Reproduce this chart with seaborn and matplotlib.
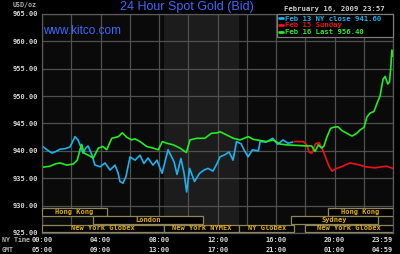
import matplotlib
matplotlib.use("Agg")
import matplotlib.pyplot as plt
import seaborn as sns
import pandas as pd
from matplotlib.patches import Rectangle
from matplotlib.ticker import FixedLocator

# ---------------- data ----------------
feb13_hours = [0, 0.34, 0.68, 0.96, 1.23, 1.57, 1.91, 2.26, 2.46, 2.60, 2.80, 3.01, 3.15,
               3.42, 3.62, 3.97, 4.31, 4.65, 4.99, 5.20, 5.33, 5.54, 5.74, 6.02, 6.36,
               6.70, 6.97, 7.25, 7.59, 7.86, 8.21, 8.62, 9.03, 9.23, 9.50, 9.71, 9.89,
               10.09, 10.43, 10.77, 11.08, 11.35, 11.69, 11.97, 12.17, 12.51, 12.79,
               13.06, 13.30, 13.61, 13.81, 14.09, 14.39, 14.80, 14.91, 15.32, 15.77,
               16.12, 16.48, 16.82, 17.14]
feb13_prices = [940.9, 940.2, 939.6, 939.9, 940.3, 940.4, 940.7, 942.6, 942.0, 941.1, 939.6,
                940.6, 940.9, 939.2, 937.4, 937.1, 937.8, 936.5, 937.4, 936.0, 934.4, 934.1,
                935.3, 938.9, 938.3, 939.2, 937.7, 938.7, 937.4, 938.3, 935.9, 940.2, 938.0,
                935.7, 938.6, 936.0, 932.5, 936.8, 934.4, 935.9, 936.5, 936.8, 936.3, 937.7,
                938.9, 939.3, 939.8, 938.3, 941.7, 941.3, 940.2, 938.9, 940.2, 940.0, 941.7,
                941.6, 942.3, 941.2, 942.0, 941.4, 941.6]

feb15_hours = [17.25, 17.87, 18.10, 18.28, 18.46, 18.70, 18.94, 19.15, 19.38, 19.62, 19.83,
               20.15, 20.38, 20.72, 21.06, 21.40, 21.74, 22.09, 22.43, 22.77, 23.23, 23.57,
               23.97]
feb15_prices = [941.7, 941.7, 941.1, 939.7, 939.6, 941.3, 941.5, 940.5, 938.9, 937.2, 936.3,
                936.8, 937.0, 937.4, 937.8, 937.6, 937.4, 937.1, 937.0, 936.9, 937.1, 937.2,
                936.8]

feb16_hours = [0, 0.55, 0.89, 1.23, 1.69, 2.14, 2.41, 2.60, 2.71, 2.87, 3.17, 3.51, 3.85,
               4.17, 4.42, 4.77, 5.22, 5.49, 5.79, 6.13, 6.36, 6.70, 7.16, 7.61, 7.95, 8.23,
               8.53, 8.98, 9.44, 9.87, 10.12, 10.58, 11.13, 11.58, 11.99, 12.17, 12.63,
               13.08, 13.54, 14.11, 14.45, 14.91, 15.36, 15.82, 16.27, 16.73, 17.42, 18.10,
               18.44, 18.67, 18.89, 19.12, 19.28, 19.49, 19.73, 19.92, 20.24, 20.51, 20.85,
               21.20, 21.52, 21.74, 22.02, 22.22, 22.43, 22.70, 22.91, 23.11, 23.32, 23.47,
               23.64, 23.76, 23.86, 23.92, 23.98]
feb16_prices = [937.0, 937.2, 937.6, 937.8, 937.4, 937.6, 938.3, 940.2, 941.2, 939.6, 939.2,
                938.7, 940.5, 940.8, 940.2, 942.3, 942.6, 943.3, 942.5, 942.0, 942.2, 941.7,
                940.8, 940.5, 940.2, 941.7, 941.4, 941.1, 940.5, 939.7, 942.0, 942.3, 942.3,
                943.2, 943.3, 943.5, 942.9, 942.3, 942.0, 942.6, 942.1, 941.9, 941.7, 942.0,
                941.25, 941.1, 941.0, 940.9, 940.9, 939.9, 941.1, 940.5, 940.9, 942.6, 944.1,
                944.3, 944.4, 943.7, 943.2, 942.7, 943.2, 943.8, 944.3, 946.2, 946.9, 947.2,
                948.7, 950.0, 953.1, 953.6, 952.2, 952.6, 955.6, 958.4, 957.3]

series_names = ["Feb 13 NY close 941.60", "Feb 15 Sunday", "Feb 16 Last 956.40"]
series_colors = ["#1cb2ee", "#f01212", "#22ec22"]

y_ticks = [925, 930, 935, 940, 945, 950, 955, 960, 965]
x_major_hours = [0, 4, 8, 12, 16, 20, 23.983]
x_minor_hours = [2, 6, 10, 14, 18, 22]
ny_labels = ["00:00", "04:00", "08:00", "12:00", "16:00", "20:00", "23:59"]
gmt_labels = ["05:00", "09:00", "13:00", "17:00", "21:00", "01:00", "04:59"]

nymex_start, nymex_end = 8.333, 13.5

session_labels = ["Hong Kong", "Hong Kong", "London", "Sydney",
                  "New York Globex", "New York NYMEX", "NY Globex", "New York Globex"]
session_rows = [0, 0, 1, 1, 2, 2, 2, 2]
session_starts = [0, 19.55, 3.5, 17.0, 0, 8.333, 13.5, 18.0]
session_ends = [4.44, 24.0, 11.0, 23.0, 8.333, 13.5, 17.25, 24.0]
row_bottoms = [928.1, 926.6, 925.1]
row_height = 1.45

# ---------------- style ----------------
sns.set_style("dark", {"axes.facecolor": "#0a0a0a", "figure.facecolor": "black",
                       "axes.edgecolor": "#5a5a5a", "grid.color": "#505050"})
plt.rcParams["font.family"] = ["DejaVu Sans Mono", "DejaVu Sans"]
mono = {"family": "DejaVu Sans Mono", "weight": "bold"}

fig = plt.figure(figsize=(4.0, 2.54), dpi=100, facecolor="black")
ax = fig.add_axes([42 / 400, 21 / 254, 351 / 400, 219 / 254])
ax.set_facecolor("#0a0a0a")

df = pd.concat([
    pd.DataFrame({"hour": feb13_hours, "price": feb13_prices, "series": series_names[0]}),
    pd.DataFrame({"hour": feb15_hours, "price": feb15_prices, "series": series_names[1]}),
    pd.DataFrame({"hour": feb16_hours, "price": feb16_prices, "series": series_names[2]}),
])

ax.axvspan(nymex_start, nymex_end, color="#1c1c1c", zorder=0, lw=0)

sns.lineplot(data=df, x="hour", y="price", hue="series", hue_order=series_names,
             palette=dict(zip(series_names, series_colors)), linewidth=1.2,
             estimator=None, sort=True, ax=ax, zorder=2)

ax.set_xlim(0, 24)
ax.set_ylim(925, 965)
ax.set_xlabel("")
ax.set_ylabel("")

ax.set_yticks(y_ticks, labels=[f"{v:.2f}" for v in y_ticks])
ax.set_xticks(x_major_hours, labels=[f"{a}\n{b}" for a, b in zip(ny_labels, gmt_labels)])
ax.xaxis.set_minor_locator(FixedLocator(x_minor_hours))
ax.grid(True, which="both", color="#505050", linewidth=0.9)
ax.tick_params(axis="both", which="both", length=0, colors="#d8d8d8")
ax.tick_params(axis="y", pad=2.5)
ax.tick_params(axis="x", pad=3.2)
for lbl in ax.get_yticklabels():
    lbl.set_fontproperties(mono)
    lbl.set_fontsize(5.0)
for lbl in ax.get_xticklabels():
    lbl.set_fontproperties(mono)
    lbl.set_fontsize(5.0)
    lbl.set_linespacing(1.75)
ax.get_xticklabels()[-1].set_ha("right")
for s in ax.spines.values():
    s.set_color("#5a5a5a")
    s.set_linewidth(0.9)

# session boxes
for lab, r, s0, s1 in zip(session_labels, session_rows, session_starts, session_ends):
    yb = row_bottoms[r]
    ax.add_patch(Rectangle((s0, yb), s1 - s0, row_height, facecolor="black",
                           edgecolor="#8c8658", lw=0.9, zorder=3))
    ax.text((s0 + s1) / 2, yb + row_height / 2, lab, ha="center", va="center",
            color="#e8b000", fontsize=5.0, zorder=4, **mono)

# legend
handles, labels = ax.get_legend_handles_labels()
leg = ax.legend(handles, labels, loc="upper left",
                bbox_to_anchor=((277 - 42) / 351, 0, (393 - 277) / 351, 1.0),
                mode="expand", borderaxespad=0, frameon=True, fancybox=False,
                facecolor="black", edgecolor="#7a7a7a", framealpha=1,
                handlelength=0.55, handletextpad=0.35, borderpad=0.25,
                labelspacing=0.08, labelcolor="linecolor",
                prop={"family": "DejaVu Sans Mono", "weight": "bold", "size": 5.2})
leg.get_frame().set_linewidth(0.9)
for h in leg.get_lines():
    h.set_linewidth(2.0)
leg.set_zorder(5)

# texts
blue = "#4068ff"
fig.text(187 / 400, 1 - 7 / 254, "24 Hour Spot Gold (Bid)", ha="center", va="center",
         color=blue, fontsize=9, family="Liberation Sans")
fig.text(43 / 400, 1 - 31 / 254, "www.kitco.com", ha="left", va="center",
         color=blue, fontsize=8.5, family="Liberation Sans")
fig.text(385 / 400, 1 - 9.5 / 254, "February 16, 2009 23:57", ha="right", va="center",
         color="#d0d0d0", fontsize=5.2, **mono)
fig.text(13 / 400, 1 - 5 / 254, "USD/oz", ha="left", va="center",
         color="#b0b0b0", fontsize=4.8, **mono)
fig.text(2 / 400, 1 - 240 / 254, "NY Time", ha="left", va="center",
         color="#b0b0b0", fontsize=4.8, **mono)
fig.text(2 / 400, 1 - 250 / 254, "GMT", ha="left", va="center",
         color="#b0b0b0", fontsize=4.8, **mono)

fig.savefig("out.png", dpi=100, facecolor="black")
